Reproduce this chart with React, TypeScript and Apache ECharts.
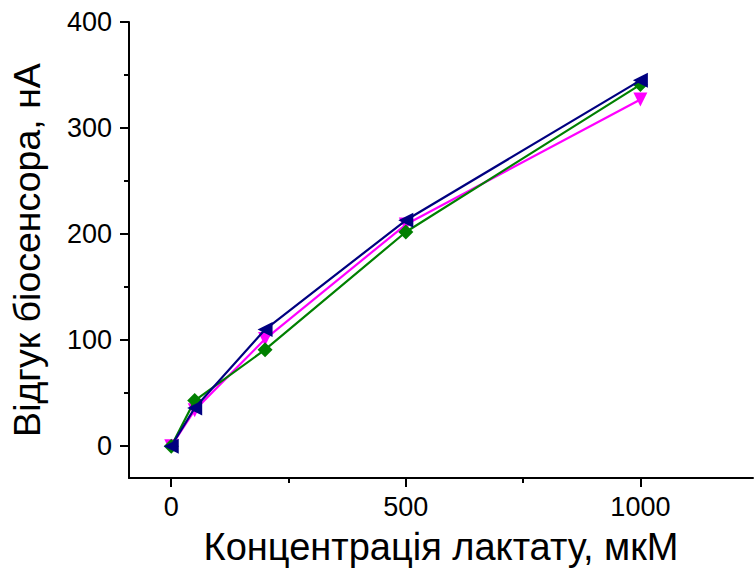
import React, { useEffect, useRef } from "react";
import * as echarts from "echarts";

const concentrations = [0, 50, 200, 500, 1000];
const greenValues = [0, 43, 91, 202, 341];
const magentaValues = [0, 34, 101, 209, 327];
const navyValues = [0, 36, 110, 213, 345];

const xMajorTicks = [0, 500, 1000];
const xMinorTicks = [250, 750];
const yMajorTicks = [0, 100, 200, 300, 400];
const yMinorTicks = [50, 150, 250, 350];

const xTitle = "Концентрація лактату, мкМ";
const yTitle = "Відгук біосенсора, нА";

const FONT = "Liberation Sans, Arial, sans-serif";

function pairs(vals: number[]) {
  return concentrations.map((c, i) => [c, vals[i]]);
}

export default function App() {
  const ref = useRef<HTMLDivElement>(null);
  useEffect(() => {
    if (!ref.current) return;
    const chart = echarts.init(ref.current, null, { renderer: "svg" });
    const xBase = { type: "value", min: -90, max: 1240, splitLine: { show: false } };
    const yBase = { type: "value", min: -30, max: 400, splitLine: { show: false } };
    const fmt = (v: number) => String(v);
    chart.setOption({
      animation: false,
      backgroundColor: "#ffffff",
      grid: { left: 127, right: 1, top: 22, bottom: 89, containLabel: false },
      xAxis: [
        {
          ...xBase,
          position: "bottom",
          axisLine: { show: true, onZero: false, lineStyle: { color: "#000", width: 2 } },
          axisTick: { show: true, inside: false, length: 9, lineStyle: { color: "#000", width: 2 }, customValues: xMajorTicks },
          axisLabel: { show: true, customValues: xMajorTicks, formatter: fmt, color: "#000", fontSize: 27, fontFamily: FONT, margin: 15 },
          name: xTitle,
          nameLocation: "middle",
          nameGap: 50,
          nameTextStyle: { color: "#000", fontSize: 38, fontFamily: FONT },
        },
        {
          ...xBase,
          position: "bottom",
          axisLine: { show: false, onZero: false },
          axisTick: { show: true, inside: false, length: 5, lineStyle: { color: "#000", width: 2 }, customValues: xMinorTicks },
          axisLabel: { show: false },
        },
      ],
      yAxis: [
        {
          ...yBase,
          position: "left",
          axisLine: { show: true, onZero: false, lineStyle: { color: "#000", width: 2 } },
          axisTick: { show: true, inside: false, length: 9, lineStyle: { color: "#000", width: 2 }, customValues: yMajorTicks },
          axisLabel: { show: true, customValues: yMajorTicks, formatter: fmt, color: "#000", fontSize: 27, fontFamily: FONT, margin: 17 },
          name: yTitle,
          nameLocation: "middle",
          nameGap: 83,
          nameRotate: 90,
          nameTextStyle: { color: "#000", fontSize: 37.5, fontFamily: FONT, padding: [0, 0, 0, 0] },
        },
        {
          ...yBase,
          position: "left",
          axisLine: { show: false, onZero: false },
          axisTick: { show: true, inside: false, length: 5, lineStyle: { color: "#000", width: 2 }, customValues: yMinorTicks },
          axisLabel: { show: false },
        },
      ],
      series: [
        {
          type: "line",
          data: pairs(magentaValues),
          color: "#ff00ff",
          lineStyle: { width: 2.2, color: "#ff00ff" },
          itemStyle: { color: "#ff00ff" },
          symbol: "triangle",
          symbolRotate: 180,
          symbolSize: 14,
          z: 2,
        },
        {
          type: "line",
          data: pairs(greenValues),
          color: "#008000",
          lineStyle: { width: 2.2, color: "#008000" },
          itemStyle: { color: "#008000" },
          symbol: "diamond",
          symbolSize: 15,
          z: 3,
        },
        {
          type: "line",
          data: pairs(navyValues),
          color: "#000080",
          lineStyle: { width: 2.2, color: "#000080" },
          itemStyle: { color: "#000080" },
          symbol: "triangle",
          symbolRotate: 90,
          symbolSize: 15,
          z: 4,
        },
      ],
    });
    return () => chart.dispose();
  }, []);
  return (
    <div
      ref={ref}
      style={{ position: "fixed", left: 0, top: 0, width: 754, height: 571 }}
    />
  );
}
